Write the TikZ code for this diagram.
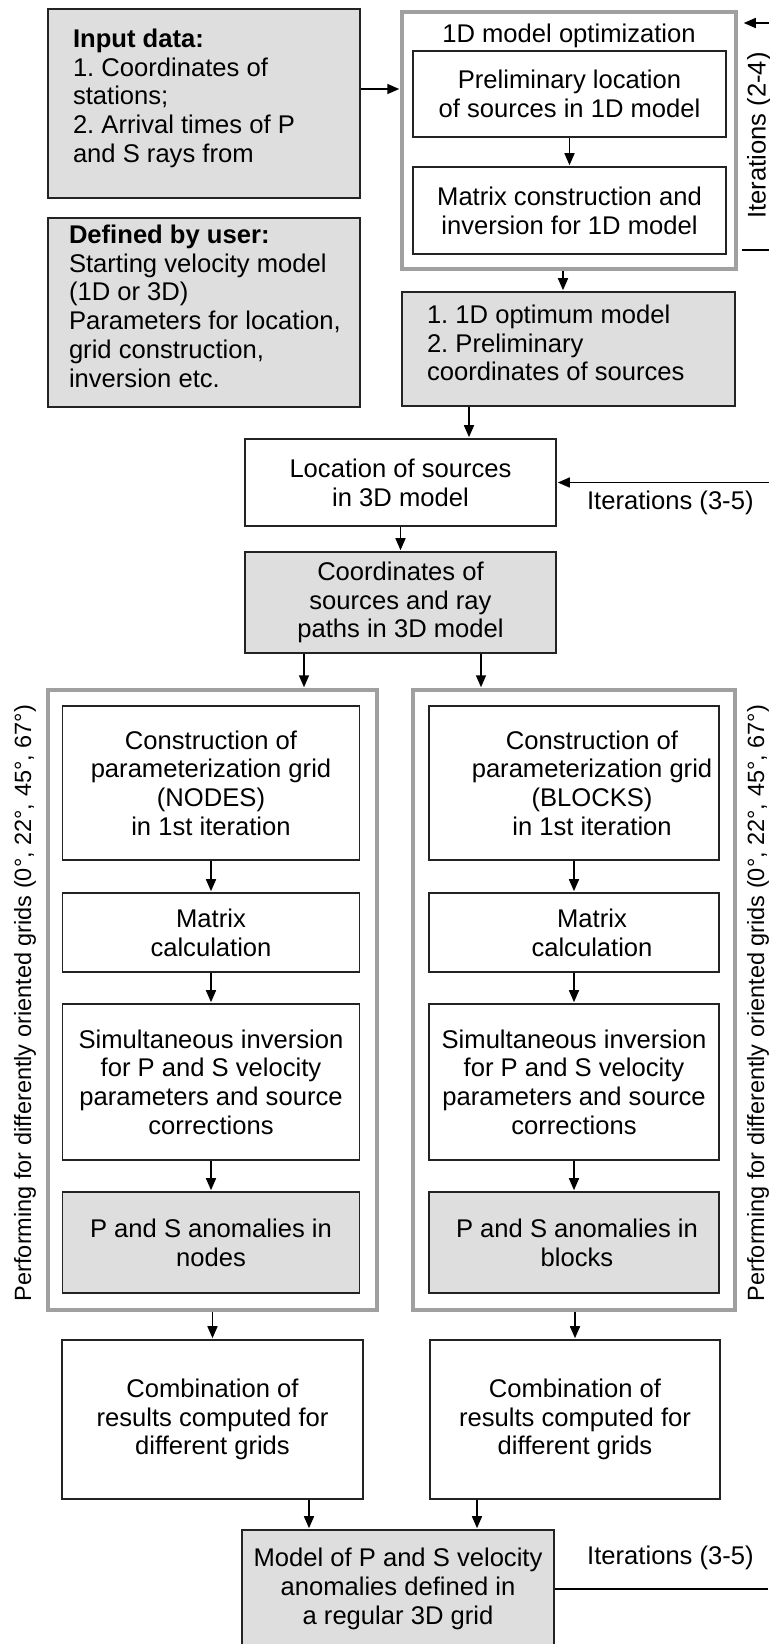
\documentclass[tikz,border=0pt]{standalone}
\usepackage{fontspec}
\setmainfont{Liberation Sans}
\usepackage{xcolor}
\usepackage{tikz}
\usetikzlibrary{
    arrows.meta
}
\frenchspacing

\definecolor{boxfill}{RGB}{222,222,222}
\definecolor{framegray}{RGB}{160,160,160}
\definecolor{boxline}{RGB}{35,35,35}

\begin{document}
\begin{tikzpicture}[->,>={Triangle[length=12pt,width=10pt]},shorten >=1pt,x=1pt,y=-1pt,line width=1.6pt]
    \tikzstyle{every node}=[font=\fontsize{25.6}{28.7}\selectfont]
    \tikzstyle{box}=[draw=boxline, line width=1.6pt, align=center, inner sep=0pt]
    \tikzstyle{shaded}=[box, fill=boxfill]
    \tikzstyle{frame}=[draw=framegray, line width=3.5pt, inner sep=0pt]
    \tikzstyle{side}=[rotate=90, font=\fontsize{23.5}{26}\selectfont]
    \tikzstyle{list}=[anchor=north west, align=left, inner sep=0pt]
    \useasboundingbox (0,0) rectangle (769,1644);

    % inputs
    \node[shaded, minimum width=312pt, minimum height=189pt,
        label={[list, xshift=25pt, yshift=-20pt]north west:{\textbf{Input data:}\\1. Coordinates of\\stations;\\2. Arrival times of P\\and S rays from}}] (input) at (204,103.5) {};
    \node[shaded, minimum width=312pt, minimum height=189pt,
        label={[list, xshift=21pt, yshift=-7pt]north west:{\textbf{Defined by user:}\\Starting velocity model\\(1D or 3D)\\Parameters for location,\\grid construction,\\inversion etc.}}] (user) at (204,312.5) {};

    % 1D optimization
    \node[frame, minimum width=334pt, minimum height=257pt] (opt) at (569,140.5) {};
    \node (opttitle) at (569,36) {1D model optimization};
    \node[box, minimum width=313pt, minimum height=86pt] (prelim) at (569.5,94) {Preliminary location\\of sources in 1D model};
    \node[box, minimum width=313pt, minimum height=87pt] (inv1d) at (569.5,210.5) {Matrix construction and\\inversion for 1D model};
    \node[shaded, minimum width=333pt, minimum height=114pt,
        label={[list, xshift=25pt, yshift=-13pt]north west:{1. 1D optimum model\\2. Preliminary\\coordinates of sources}}] (optimum) at (568.5,349) {};

    % 3D location
    \node[box, minimum width=311pt, minimum height=87pt] (location) at (400.5,482.5) {Location of sources\\in 3D model};
    \node[shaded, minimum width=311pt, minimum height=101pt] (paths) at (400.5,602.5) {Coordinates of\\sources and ray\\paths in 3D model};

    % NODES branch
    \node[frame, minimum width=329pt, minimum height=620pt] (leftframe) at (212.5,1000) {};
    \node[box, minimum width=297pt, minimum height=154pt] (gridN) at (211,783) {Construction of\\parameterization grid\\(NODES)\\in 1st iteration};
    \node[box, minimum width=297pt, minimum height=79pt] (matN) at (211,932.5) {Matrix\\calculation};
    \node[box, minimum width=297pt, minimum height=156pt] (invN) at (211,1082) {Simultaneous inversion\\for P and S velocity\\parameters and source\\corrections};
    \node[shaded, minimum width=297pt, minimum height=101pt] (anomN) at (211,1242.5) {P and S anomalies in\\nodes};
    \node[box, minimum width=301pt, minimum height=159pt] (combN) at (212.5,1419.5) {Combination of\\results computed for\\different grids};

    % BLOCKS branch
    \node[frame, minimum width=322pt, minimum height=620pt] (rightframe) at (574,1000) {};
    \node[box, minimum width=290pt, minimum height=154pt] (gridB) at (574,783) {\hspace*{36pt}Construction of\\\hspace*{36pt}parameterization grid\\\hspace*{36pt}(BLOCKS)\\\hspace*{36pt}in 1st iteration};
    \node[box, minimum width=290pt, minimum height=79pt] (matB) at (574,932.5) {\hspace*{36pt}Matrix\\\hspace*{36pt}calculation};
    \node[box, minimum width=290pt, minimum height=156pt] (invB) at (574,1082) {Simultaneous inversion\\for P and S velocity\\parameters and source\\corrections};
    \node[shaded, minimum width=290pt, minimum height=101pt] (anomB) at (574,1242.5) {\hspace*{6pt}P and S anomalies in\\\hspace*{6pt}blocks};
    \node[box, minimum width=290pt, minimum height=159pt] (combB) at (575,1419.5) {Combination of\\results computed for\\different grids};

    \node[shaded, minimum width=312pt, minimum height=118pt] (model) at (398,1589) {Model of P and S velocity\\anomalies defined in\\a regular 3D grid};

    % side notes
    \node[side] (gridsL) at (25,1003) {Performing for differently oriented grids (0°, 22°, 45°, 67°)};
    \node[side] (gridsR) at (758,1003) {Performing for differently oriented grids (0°, 22°, 45°, 67°)};
    \node[rotate=90] (iterA) at (759,135.5) {Iterations (2-4)};

    \coordinate (inputout) at ([yshift=14.5pt]input.east);
    \coordinate (loopA) at (769,23);
    \coordinate (loopB) at (769,250);
    \coordinate (loopC) at (769,482.5);
    \coordinate (loopD) at (769,1589);

    \path (inputout) edge (inputout -| opt.west);
    \path (prelim) edge (inv1d);
    \path ([xshift=-6pt]opt.south) edge ([xshift=-6pt]opt.south |- optimum.north);
    \path ([xshift=-99.5pt]optimum.south) edge ([xshift=-99.5pt]optimum.south |- location.north);
    \path (location) edge (paths);
    \path ([xshift=-96.5pt]paths.south) edge ([xshift=-96.5pt]paths.south |- leftframe.north);
    \path ([xshift=80.5pt]paths.south) edge ([xshift=80.5pt]paths.south |- rightframe.north);
    \path (gridN) edge (matN);
    \path (matN) edge (invN);
    \path (invN) edge (anomN);
    \path (gridB) edge (matB);
    \path (matB) edge (invB);
    \path (invB) edge (anomB);
    \path (leftframe.south -| combN.north) edge (combN.north);
    \path (rightframe.south -| combB.north) edge (combB.north);
    \path ([xshift=-89pt]model.north |- combN.south) edge ([xshift=-89pt]model.north);
    \path ([xshift=79pt]model.north |- combB.south) edge ([xshift=79pt]model.north);
    \path (loopA) edge ([xshift=5pt]opt.east |- loopA);
    \path (loopB) edge[-] ([xshift=3pt]opt.east |- loopB);
    \path (loopC) edge node[below=8pt, pos=0.465, inner sep=0pt] (iterB) {Iterations (3-5)} (location.east);
    \path (model.east) edge[-] node[above=18pt, pos=0.54, inner sep=0pt] (iterC) {Iterations (3-5)} (loopD);
\end{tikzpicture}
\end{document}
